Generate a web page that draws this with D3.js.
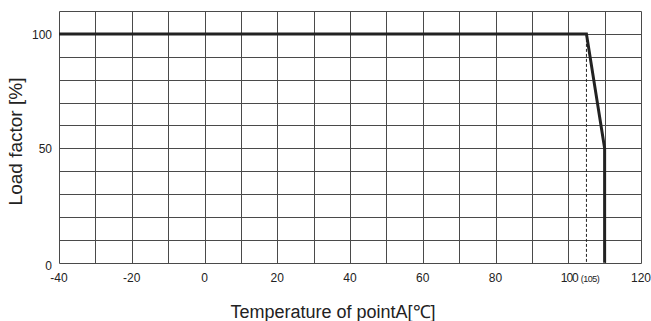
<!DOCTYPE html>
<html>
<head>
<meta charset="utf-8">
<script src="https://cdn.jsdelivr.net/npm/d3@7"></script>
<style>
  body { margin: 0; background: #fff; }
  text { font-family: "Liberation Sans", Arial, sans-serif; fill: #222; }
</style>
</head>
<body>
<div id="chart"></div>
<script>
// derating curve
const curveTemp = [-40, 105, 110, 110];
const curveLoad = [100, 100, 50, 0];
// dashed reference at 105
const refTemp = [105, 105];
const refLoad = [100, 0];
const xTicks = [-40, -20, 0, 20, 40, 60, 80, 100, 120];
const yTicks = [0, 50, 100];

const width = 651;
const height = 321;
const margin = { top: 11, right: 10, bottom: 58, left: 59 };

const svg = d3.select('#chart')
  .append('svg')
  .attr('width', width)
  .attr('height', height);

const x = d3.scaleLinear().domain([-40, 120]).range([margin.left, 641]);
const y = d3.scaleLinear().domain([0, 110]).range([262.7, margin.top]);

// grid
const grid = svg.append('g').attr('stroke', '#4a4a4a').attr('stroke-width', 1);
grid.selectAll('line.v')
  .data(d3.range(-40, 121, 10))
  .enter().append('line')
  .attr('x1', d => Math.round(x(d)) + 0.5)
  .attr('x2', d => Math.round(x(d)) + 0.5)
  .attr('y1', Math.round(y(110)) + 0.5)
  .attr('y2', Math.round(y(0)) + 0.5);
grid.selectAll('line.h')
  .data(d3.range(0, 111, 10))
  .enter().append('line')
  .attr('y1', d => Math.round(y(d)) + 0.5)
  .attr('y2', d => Math.round(y(d)) + 0.5)
  .attr('x1', Math.round(x(-40)) + 0.5)
  .attr('x2', Math.round(x(120)) + 0.5);

// dashed line
svg.append('path')
  .datum(refTemp.map((t, i) => [t, refLoad[i]]))
  .attr('d', d3.line().x(d => x(d[0])).y(d => y(d[1])))
  .attr('fill', 'none')
  .attr('stroke', '#222')
  .attr('stroke-width', 1)
  .attr('stroke-dasharray', '3,2');

// curve
svg.append('path')
  .datum(curveTemp.map((t, i) => [t, curveLoad[i]]))
  .attr('d', d3.line().x(d => x(d[0])).y(d => y(d[1])))
  .attr('fill', 'none')
  .attr('stroke', '#222')
  .attr('stroke-width', 3);

// x tick labels
svg.selectAll('text.xt')
  .data(xTicks)
  .enter().append('text')
  .attr('x', d => x(d))
  .attr('y', 281.5)
  .attr('text-anchor', 'middle')
  .style('font-size', '12px')
  .each(function(d) {
    const t = d3.select(this);
    if (d === 100) {
      t.attr('text-anchor', 'start').attr('x', x(d) - 7.5);
      t.append('tspan').text('100').style('letter-spacing', '-1px');
      t.append('tspan').text('(105)').attr('dx', 3).style('font-size', '9px').style('letter-spacing', '-0.5px');
    } else {
      t.text(d);
    }
  });

// y tick labels
svg.selectAll('text.yt')
  .data(yTicks)
  .enter().append('text')
  .attr('x', d => d === 0 ? 52 : 52)
  .attr('y', d => d === 0 ? y(d) + 7 : y(d) + 5)
  .attr('text-anchor', 'end')
  .style('font-size', '12px')
  .text(d => d);

// axis titles
svg.append('text')
  .attr('x', 333)
  .attr('y', 317.5)
  .attr('text-anchor', 'middle')
  .style('font-size', '18px')
  .text('Temperature of pointA[℃]');

svg.append('text')
  .attr('transform', 'translate(22,141.5) rotate(-90)')
  .attr('text-anchor', 'middle')
  .style('font-size', '19px')
  .text('Load factor [%]');
</script>
</body>
</html>
